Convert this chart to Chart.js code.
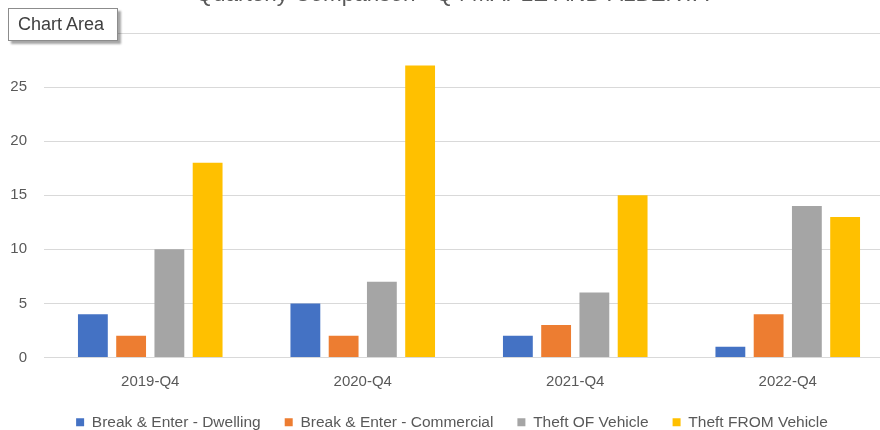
<!DOCTYPE html>
<html>
<head>
<meta charset="utf-8">
<script src="https://cdn.jsdelivr.net/npm/chart.js@4"></script>
<style>
  html, body { margin: 0; padding: 0; background: #fff; overflow: hidden; width: 880px; height: 430px; }
  #wrap { position: absolute; left: 0; top: -19px; width: 915px; height: 459px; }
  #tip {
    position: absolute; left: 8px; top: 8px; width: 110px; height: 33px;
    background: #fff; border: 1px solid #8c8c8c;
    box-shadow: 3px 3px 2px rgba(0,0,0,0.35);
    font: 18px "Liberation Sans Narrow", "Liberation Sans", sans-serif; color: #404040;
    line-height: 31px; padding-left: 9px; box-sizing: border-box;
  }
</style>
</head>
<body>
<div id="wrap"><canvas id="grafico"></canvas></div>
<div id="tip">Chart Area</div>
<script>
// Datos del gráfico
const trimestres = ['2019-Q4', '2020-Q4', '2021-Q4', '2022-Q4'];
const robosVivienda = [4, 5, 2, 1];
const robosComercio = [2, 2, 3, 4];
const roboDeVehiculo = [10, 7, 6, 14];
const roboEnVehiculo = [18, 27, 15, 13];
const ticksY = [0, 5, 10, 15, 20, 25, 30];

// la leyenda queda más cerca de las etiquetas del eje x, sin perder el espacio horizontal
const SUBIR_LEYENDA = 15;
const ajusteLeyenda = {
    id: 'ajusteLeyenda',
    afterInit(chart) {
        const lg = chart.legend;
        if (!lg) return;
        const fit = lg.fit.bind(lg);
        const draw = lg.draw.bind(lg);
        lg.fit = function() { fit(); this.height -= SUBIR_LEYENDA; };
        lg.draw = function() {
            const top = this.top;
            this.top = top - SUBIR_LEYENDA;
            draw();
            this.top = top;
        };
    }
};

document.addEventListener("DOMContentLoaded", function() {
    const ctx = document.getElementById('grafico').getContext('2d');
    const fuente = '"Liberation Sans", Arial, sans-serif';
    new Chart(ctx, {
        type: 'bar',
        data: {
            labels: trimestres,
            datasets: [
                { label: 'Break & Enter - Dwelling', data: robosVivienda, backgroundColor: '#4472C4' },
                { label: 'Break & Enter - Commercial', data: robosComercio, backgroundColor: '#ED7D31' },
                { label: 'Theft OF Vehicle', data: roboDeVehiculo, backgroundColor: '#A5A5A5' },
                { label: 'Theft FROM Vehicle', data: roboEnVehiculo, backgroundColor: '#FFC000' }
            ]
        },
        options: {
            responsive: true,
            maintainAspectRatio: false,
            animation: false,
            categoryPercentage: 0.72,
            barPercentage: 0.78,
            layout: { padding: { left: 10, right: 21, top: 0, bottom: 0 } },
            plugins: {
                title: {
                    display: true,
                    text: 'Quarterly Comparison - Q4 MAPLE AND ALBERTA',
                    color: '#595959',
                    font: { family: fuente, size: 22.5, weight: 'normal' },
                    padding: { top: 0, bottom: 25 }
                },
                legend: {
                    position: 'bottom',
                    labels: {
                        color: '#595959',
                        font: { family: fuente, size: 15.5 },
                        boxWidth: 8,
                        boxHeight: 8,
                        padding: 24
                    }
                },
                tooltip: { enabled: false }
            },
            scales: {
                x: {
                    grid: { display: false, drawTicks: false },
                    border: { color: '#d9d9d9' },
                    ticks: { color: '#595959', font: { family: fuente, size: 15 }, padding: 15 }
                },
                y: {
                    min: 0,
                    max: 30,
                    afterBuildTicks: axis => { axis.ticks = ticksY.map(v => ({ value: v })); },
                    afterFit: axis => { axis.width = 34; },
                    grid: { color: '#d9d9d9', drawTicks: false },
                    border: { display: false },
                    ticks: { color: '#595959', font: { family: fuente, size: 15 }, padding: 17 }
                }
            }
        },
        plugins: [ajusteLeyenda]
    });
});
</script>
</body>
</html>
